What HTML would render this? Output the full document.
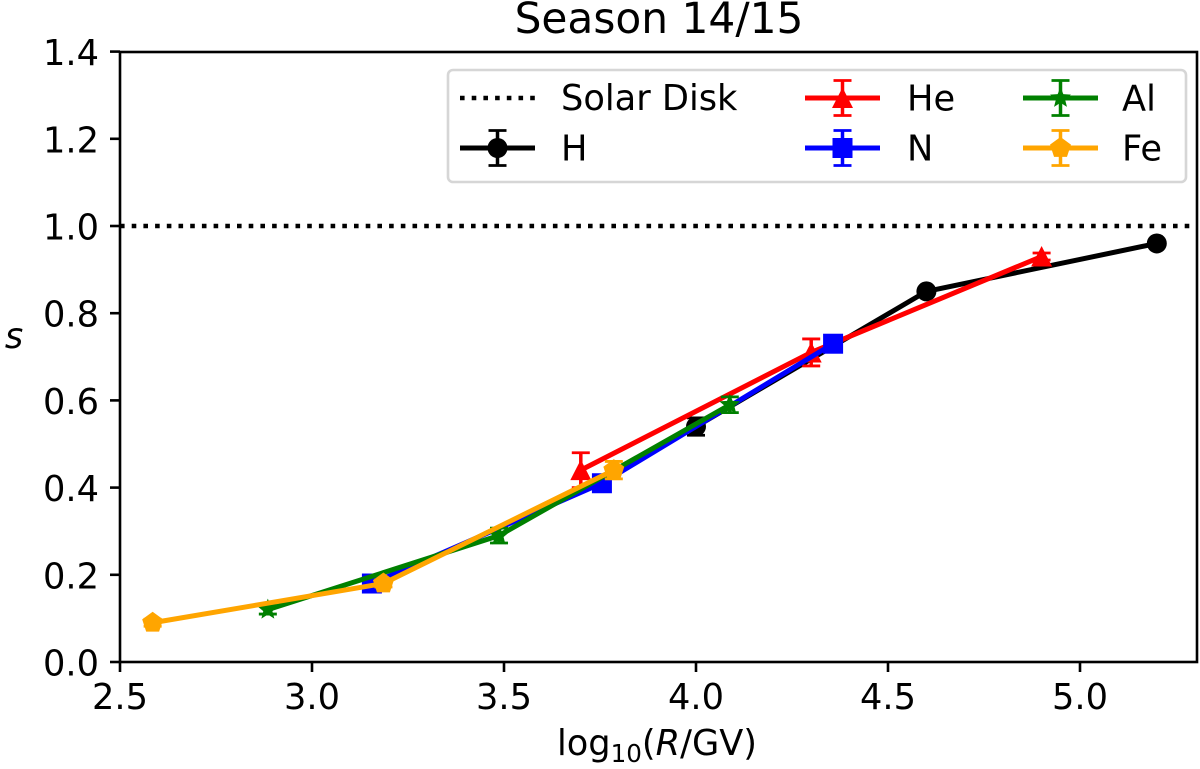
<!DOCTYPE html>
<html lang="en">
<head>
<meta charset="utf-8">
<title>Season 14/15</title>
<style>
html,body{margin:0;padding:0;background:#fff;}
svg{display:block;font-family:"DejaVu Sans","Liberation Sans",sans-serif;fill:#000;}
</style>
</head>
<body>
<svg id="chart" xmlns="http://www.w3.org/2000/svg" width="1200" height="769" viewBox="0 0 1200 769">
  <text x="659" y="33" font-size="42.3" text-anchor="middle">Season 14/15</text>
  <text x="657" y="755" font-size="35.2" text-anchor="middle">log<tspan font-size="24.6" dy="7">10</tspan><tspan dy="-7">(</tspan><tspan font-style="italic">R</tspan>/GV)</text>
  <text x="14" y="348" font-size="35.2" font-style="italic" text-anchor="middle">s</text>
</svg>
<script>
const xTicks = [2.5, 3.0, 3.5, 4.0, 4.5, 5.0];
const yTicks = [0.0, 0.2, 0.4, 0.6, 0.8, 1.0, 1.2, 1.4];
const solarDisk = 1.0;

const seriesNames = ['H', 'He', 'N', 'Al', 'Fe'];
const hX = [4.0, 4.6, 5.2];
const hY = [0.54, 0.85, 0.96];
const hErr = [0.02, 0.005, 0.005];
const heX = [3.7, 4.3, 4.9];
const heY = [0.44, 0.71, 0.93];
const heErr = [0.04, 0.031, 0.008];
const nX = [3.156, 3.755, 4.357];
const nY = [0.18, 0.41, 0.73];
const nErr = [0.008, 0.008, 0.008];
const alX = [2.885, 3.487, 4.088];
const alY = [0.12, 0.29, 0.59];
const alErr = [0.01, 0.017, 0.018];
const feX = [2.585, 3.186, 3.786];
const feY = [0.09, 0.18, 0.44];
const feErr = [0.008, 0.008, 0.02];

const svg = document.getElementById('chart');
const NS = 'http://www.w3.org/2000/svg';
const xScale = v => 120 + (v - 2.5) * 384;
const yScale = v => 662 - v * 436;

function make(tag, attrs, parent) {
  const el = document.createElementNS(NS, tag);
  for (const k in attrs) el.setAttribute(k, attrs[k]);
  (parent || svg).appendChild(el);
  return el;
}

function drawMarker(kind, cx, cy, color, parent) {
  if (kind === 'circle') return make('circle', {cx: cx, cy: cy, r: 10, fill: color}, parent);
  if (kind === 'square') return make('rect', {x: cx - 10, y: cy - 10, width: 20, height: 20, fill: color}, parent);
  let pts = [];
  if (kind === 'triangle') pts = [[0, -10.5], [10.5, 10], [-10.5, 10]];
  if (kind === 'pentagon') for (let i = 0; i < 5; i++) {
    const a = -Math.PI / 2 + i * 2 * Math.PI / 5;
    pts.push([11 * Math.cos(a), 11 * Math.sin(a)]);
  }
  if (kind === 'star') for (let i = 0; i < 10; i++) {
    const a = -Math.PI / 2 + i * Math.PI / 5, r = i % 2 ? 4.8 : 11;
    pts.push([r * Math.cos(a), r * Math.sin(a)]);
  }
  return make('polygon', {points: pts.map(p => (cx + p[0]) + ',' + (cy + p[1])).join(' '), fill: color}, parent);
}

function drawError(cx, top, bottom, color, parent) {
  make('line', {x1: cx, x2: cx, y1: top, y2: bottom, stroke: color, 'stroke-width': 3.5}, parent);
  make('line', {x1: cx - 9, x2: cx + 9, y1: top, y2: top, stroke: color, 'stroke-width': 2.8}, parent);
  make('line', {x1: cx - 9, x2: cx + 9, y1: bottom, y2: bottom, stroke: color, 'stroke-width': 2.8}, parent);
}

/* solar disk reference */
const solarLine = make('line', {x1: xScale(2.5), x2: 1197, y1: yScale(solarDisk), y2: yScale(solarDisk), stroke: '#000', 'stroke-width': 4.5, 'stroke-dasharray': '4.6 7.1'});



/* series */
const allX = [hX, heX, nX, alX, feX];
const allY = [hY, heY, nY, alY, feY];
const allErr = [hErr, heErr, nErr, alErr, feErr];
const colors = ['#000000', '#ff0000', '#0000ff', '#008000', '#ffa500'];
const markers = ['circle', 'triangle', 'square', 'star', 'pentagon'];

seriesNames.forEach((name, s) => {
  const g = make('g', {});
  
  
  make('polyline', {
    points: allX[s].map((v, i) => xScale(v) + ',' + yScale(allY[s][i])).join(' '),
    fill: 'none', stroke: colors[s], 'stroke-width': 5, 'stroke-linejoin': 'round'
  }, g);
  allX[s].forEach((v, i) => {
    const cx = xScale(v), cy = yScale(allY[s][i]), e = allErr[s][i];
    drawError(cx, yScale(allY[s][i] + e), yScale(allY[s][i] - e), colors[s], g);
    const m = drawMarker(markers[s], cx, cy, colors[s], g);
    
    
  });
});

/* frame */
const frame = make('rect', {x: 120, y: 52, width: 1077, height: 610, fill: 'none', stroke: '#000', 'stroke-width': 2.6});



/* ticks */
xTicks.forEach(t => {
  const tick = make('line', {x1: xScale(t), x2: xScale(t), y1: 662, y2: 672, stroke: '#000', 'stroke-width': 2.6});
  
  
  const label = make('text', {x: xScale(t), y: 709, 'font-size': 35.2, 'text-anchor': 'middle'});
  label.textContent = t.toFixed(1);
  
  
});
yTicks.forEach(t => {
  const tick = make('line', {x1: 110, x2: 120, y1: yScale(t), y2: yScale(t), stroke: '#000', 'stroke-width': 2.6});
  
  
  const label = make('text', {x: 99, y: yScale(t) + 13.5, 'font-size': 35.2, 'text-anchor': 'end'});
  label.textContent = t.toFixed(1);
  
  
});

/* legend */
const legend = make('g', {});


make('rect', {x: 448, y: 70, width: 738, height: 112, rx: 5, fill: '#fff', 'fill-opacity': 0.8, stroke: '#d6d6d6', 'stroke-width': 2.6}, legend);

const solarHandle = make('line', {x1: 460, x2: 535, y1: 98, y2: 98, stroke: '#000', 'stroke-width': 4.5, 'stroke-dasharray': '4.6 7.1'}, legend);


const solarText = make('text', {x: 561, y: 110, 'font-size': 35.2}, legend);
solarText.textContent = 'Solar Disk';



const legendColumn = [0, 1, 1, 2, 2];
const legendRow = [1, 0, 1, 0, 1];
const columnLeft = [460, 805, 1023];
const columnText = [561, 907, 1122];
const rowCenter = [98, 148];

seriesNames.forEach((name, s) => {
  const left = columnLeft[legendColumn[s]];
  const cy = rowCenter[legendRow[s]];
  const cx = left + 37.5;
  const entry = make('g', {}, legend);
  
  
  make('line', {x1: left, x2: left + 75, y1: cy, y2: cy, stroke: colors[s], 'stroke-width': 5}, entry);
  drawError(cx, cy - 17.5, cy + 17.5, colors[s], entry);
  drawMarker(markers[s], cx, cy, colors[s], entry);
  const txt = make('text', {x: columnText[legendColumn[s]], y: cy + 12.5, 'font-size': 35.2}, entry);
  txt.textContent = name;
});
</script>
</body>
</html>
